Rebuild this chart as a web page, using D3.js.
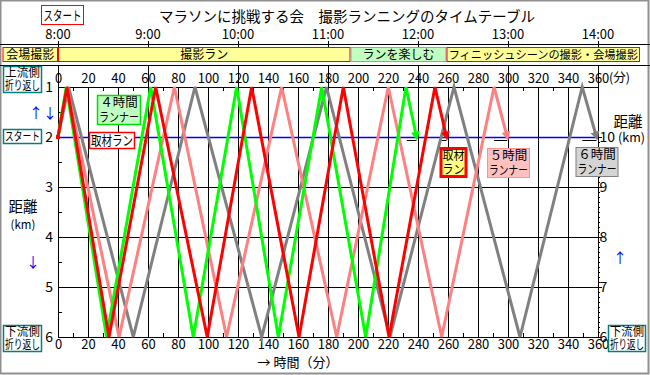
<!DOCTYPE html>
<html><head><meta charset="utf-8">
<script src="https://cdn.jsdelivr.net/npm/d3@7"></script>
<style>
body{margin:0;background:#fff;}
svg{display:block;font-family:"Noto Sans CJK JP","Noto Sans",sans-serif;}
</style></head>
<body><svg id="c" width="650" height="375"></svg>
<script>
// ---------- data ----------
const title = 'マラソンに挑戦する会　撮影ランニングのタイムテーブル';
const hourLabels = ['8:00','9:00','10:00','11:00','12:00','13:00','14:00'];
const hourMinutes = [0,60,120,180,240,300,360];
const minuteTicks = [0,20,40,60,80,100,120,140,160,180,200,220,240,260,280,300,320,340,360];
const leftDistTicks = [1,2,3,4,5,6];
const rightDistLabels = ['10','9','8','7','6'];
const rightDistAt = [2,3,4,5,6];

const eventLabels = ['会場撮影','撮影ラン','ランを楽しむ','フィニッシュシーンの撮影・会場撮影'];
const eventStart = [-37, 0, 195, 259];
const eventEnd = [0, 195, 259, 388];

const runnerNames = ['6時間ランナー','5時間ランナー','4時間ランナー','取材ラン'];
const turnDistances = [2,1,6,1,6,1,6,1,6,1,2];
const grayTimes  = [0, 7, 50.2, 91.3, 135.8, 179, 221.3, 264, 308, 349.5, 359];
const pinkTimes  = [0, 6, 40.7, 77.6, 112.4, 149.1, 185.8, 220.2, 255.8, 290.7, 299.5];
const greenTimes = [0, 5.5, 32.4, 61.8, 90.2, 119.1, 146.9, 175.8, 205.1, 232, 239];
const redTimes   = [0, 6, 34, 65.1, 99.5, 129.1, 160.7, 190.2, 220.7, 251.3, 259];
const finishMarkStart = [349.5, 290.7, 232.5, 255.8];

// ---------- styles ----------
const seriesTimes = [grayTimes, pinkTimes, greenTimes, redTimes];
const seriesColors = ['#808080','#ff8080','#00ff00','#ff0000'];
const eventFill = ['#ffff99','#ffff99','#c0ffc0','#ffff99'];
const eventStroke = ['#ff0000','#ff0000','#a0a0a0','#ff0000'];

const svg = d3.select('#c');
const x = d3.scaleLinear().domain([0,360]).range([58,598]);
const y = d3.scaleLinear().domain([1,6]).range([87,337]);
const yR = d3.scaleLinear().domain([11,6]).range([87,337]);

// squeeze a centred text horizontally so it fits maxW
function fit(sel, maxW){
  const n = sel.node();
  const w = n.getComputedTextLength();
  if (w > maxW){
    const cx = +sel.attr('x'), k = maxW / w;
    sel.attr('transform', `translate(${cx},0) scale(${k},1) translate(${-cx},0)`);
  }
  return sel;
}

// outer frame
svg.append('rect').attr('x',0.5).attr('y',0.5).attr('width',648).attr('height',373)
  .attr('fill','#fff').attr('stroke','#909090').attr('stroke-width',2);

// title
svg.append('text').attr('x',347).attr('y',22).attr('text-anchor','middle')
  .attr('font-size',14.5).attr('fill','#000').text(title);

// スタート box
svg.append('rect').attr('x',41.5).attr('y',5.5).attr('width',42).attr('height',19)
  .attr('fill','#fff').attr('stroke','#ff0000');
fit(svg.append('text').attr('x',62.5).attr('y',20).attr('text-anchor','middle')
  .attr('font-size',13).text('スタート'), 38);

// hour axis
svg.append('line').attr('x1',0).attr('x2',650).attr('y1',44.5).attr('y2',44.5).attr('stroke','#000');
svg.selectAll('.hl').data(hourMinutes).join('text')
  .attr('x',d=>x(d)).attr('y',39).attr('text-anchor','middle').attr('font-size',13)
  .text((d,i)=>hourLabels[i]);
svg.selectAll('.ht').data(hourMinutes).join('line')
  .attr('x1',d=>Math.round(x(d))+0.5).attr('x2',d=>Math.round(x(d))+0.5)
  .attr('y1',41).attr('y2',47).attr('stroke','#000');

// event bar
const ev = svg.append('g');
eventLabels.forEach((lab,i)=>{
  const x0 = Math.max(2, x(eventStart[i])), x1 = Math.min(640, x(eventEnd[i]));
  ev.append('rect').attr('x',x0+0.5).attr('y',47.5).attr('width',x1-x0-1).attr('height',14)
    .attr('fill',eventFill[i]).attr('stroke',eventStroke[i]);
  fit(ev.append('text').attr('x',(x0+x1)/2).attr('y',59).attr('text-anchor','middle')
    .attr('font-size', i===3 ? 11.5 : 12).text(lab), x1-x0-4);
});
svg.append('line').attr('x1',0).attr('x2',650).attr('y1',65.5).attr('y2',65.5).attr('stroke','#000');

// grid
const grid = svg.append('g').attr('stroke','#000').attr('stroke-width',1);
grid.selectAll('.gv').data(minuteTicks).join('line')
  .attr('x1',d=>Math.round(x(d))+0.5).attr('x2',d=>Math.round(x(d))+0.5)
  .attr('y1',d=> (d%60===0 ? 65 : 87)).attr('y2',337);
grid.selectAll('.gh').data(leftDistTicks).join('line')
  .attr('x1',58).attr('x2',598).attr('y1',d=>Math.round(y(d))+0.5).attr('y2',d=>Math.round(y(d))+0.5);
const minor10 = minuteTicks.slice(0,-1).map(d=>d+10);
grid.selectAll('.mb').data(minor10).join('line')
  .attr('x1',d=>Math.round(x(d))+0.5).attr('x2',d=>Math.round(x(d))+0.5)
  .attr('y1',333).attr('y2',337);
grid.selectAll('.mt').data(minor10).join('line')
  .attr('x1',d=>Math.round(x(d))+0.5).attr('x2',d=>Math.round(x(d))+0.5)
  .attr('y1',87).attr('y2',91);
const halfKm = [1.5,2.5,3.5,4.5,5.5];
grid.selectAll('.ml').data(halfKm).join('line')
  .attr('x1',58).attr('x2',62).attr('y1',d=>Math.round(y(d))+0.5).attr('y2',d=>Math.round(y(d))+0.5);
const tenthKm = d3.range(21,61).map(d=>d/10);
grid.selectAll('.mr').data(tenthKm).join('line')
  .attr('x1',598).attr('x2',600).attr('y1',d=>Math.round(y(d))+0.5).attr('y2',d=>Math.round(y(d))+0.5);
grid.selectAll('.Mr').data(rightDistAt).join('line')
  .attr('x1',598).attr('x2',602).attr('y1',d=>Math.round(y(d))+0.5).attr('y2',d=>Math.round(y(d))+0.5);

// start line
svg.append('line').attr('x1',58).attr('x2',598).attr('y1',Math.round(y(2))+0.5).attr('y2',Math.round(y(2))+0.5)
  .attr('stroke','#0000ff').attr('stroke-width',1.5);

// axes
const topAx = svg.append('g').attr('transform','translate(0,87)')
  .call(d3.axisTop(x).tickValues(minuteTicks).tickSize(0).tickPadding(4).tickFormat(d=>d));
const botAx = svg.append('g').attr('transform','translate(0,337)')
  .call(d3.axisBottom(x).tickValues(minuteTicks).tickSize(0).tickPadding(3).tickFormat(d=>d));
const leftAx = svg.append('g').attr('transform','translate(58,0)')
  .call(d3.axisLeft(y).tickValues(leftDistTicks).tickSize(0).tickPadding(5).tickFormat(d=>d));
const rightAx = svg.append('g').attr('transform','translate(598,0)')
  .call(d3.axisRight(yR).tickValues(rightDistLabels.map(Number)).tickSize(0).tickPadding(1.5).tickFormat(d=>d));
[topAx,botAx].forEach(a=>{a.select('.domain').remove(); a.selectAll('text').attr('font-size',13).attr('font-family','"Noto Sans CJK JP",sans-serif');});
[leftAx,rightAx].forEach(a=>{a.select('.domain').remove(); a.selectAll('text').attr('font-size',14).attr('font-family','"Noto Sans CJK JP",sans-serif');});
svg.append('text').attr('x',609).attr('y',82).attr('font-size',12.5).text('(分)');
svg.append('text').attr('x',618).attr('y',142).attr('font-size',12.5).text('(km)');
svg.append('text').attr('x',298).attr('y',367).attr('text-anchor','middle').attr('font-size',13).text('→ 時間（分）');

// series
const line = d3.line().x(d=>x(d[0])).y(d=>y(d[1]));
const defs = svg.append('defs');
seriesColors.forEach((c,i)=>{
  defs.append('marker').attr('id','m'+i).attr('viewBox','0 0 10 10').attr('refX',6).attr('refY',5)
    .attr('markerWidth',3).attr('markerHeight',3).attr('orient','auto')
    .append('path').attr('d','M0,0L10,5L0,10z').attr('fill',c);
});
seriesTimes.forEach((ts,i)=>{
  svg.append('line').attr('x1',x(finishMarkStart[i])).attr('x2',x(ts[ts.length-1]))
    .attr('y1',140.5).attr('y2',140.5).attr('stroke','#000').attr('stroke-width',1);
});
seriesTimes.forEach((ts,i)=>{
  const pts = ts.map((t,k)=>[t, turnDistances[k]]);
  svg.append('path').datum(pts).attr('d',line).attr('fill','none')
    .attr('stroke',seriesColors[i]).attr('stroke-width',3).attr('stroke-linejoin','miter')
    .attr('marker-end','url(#m'+i+')');
});
svg.append('rect').attr('x',x(0)-2).attr('y',y(2)-2).attr('width',4).attr('height',4).attr('fill','#ff0000');

// label boxes
function box(x0,y0,w,h,fill,stroke,sw,lines,fs){
  svg.append('rect').attr('x',x0).attr('y',y0).attr('width',w).attr('height',h)
    .attr('fill',fill).attr('stroke',stroke).attr('stroke-width',sw);
  const lh = h/lines.length;
  lines.forEach((t,k)=>{
    fit(svg.append('text').attr('x',x0+w/2).attr('y',y0+lh*k+lh/2+fs*0.36).attr('text-anchor','middle')
      .attr('font-size',fs).text(t), w-3);
  });
}
box(97.5,95.5,43,29,'#c0ffc0','#00e000',1.5,['４時間','ランナー'],12.5);
box(89.5,132.5,45,16,'#ffffff','#ff0000',1.5,['取材ラン'],13);
box(441,148.5,25,28,'#ffff80','#ff0000',3,['取材','ラン'],12);
box(487.5,148.5,42,29,'#ffc0c0','#ff9090',1,['５時間','ランナー'],12.5);
box(576,147.5,42,29,'#d4d4d4','#808080',1,['６時間','ランナー'],12.5);

box(3.5,66.5,38,26,'#fff','#008080',1.5,['上流側','折り返し'],12);
box(3.5,129.5,38,14,'#fff','#008080',1.5,['スタート'],12);
box(3.5,325.5,38,26,'#fff','#008080',1.5,['下流側','折り返し'],12);
box(608.5,325.5,37,26,'#fff','#008080',1.5,['下流側','折り返し'],12);
svg.append('text').attr('x',23).attr('y',212).attr('text-anchor','middle').attr('font-size',14.5).text('距離');
svg.append('text').attr('x',23).attr('y',229).attr('text-anchor','middle').attr('font-size',11.5).text('(km)');
svg.append('text').attr('x',628).attr('y',127).attr('text-anchor','middle').attr('font-size',14.5).text('距離');
svg.append('text').attr('x',43).attr('y',118).attr('text-anchor','middle').attr('font-size',14).attr('fill','#0000ff').text('↑↓');
svg.append('text').attr('x',33).attr('y',267).attr('text-anchor','middle').attr('font-size',14).attr('fill','#0000ff').text('↓');
svg.append('text').attr('x',620).attr('y',263).attr('text-anchor','middle').attr('font-size',14).attr('fill','#0000ff').text('↑');
</script></body></html>
